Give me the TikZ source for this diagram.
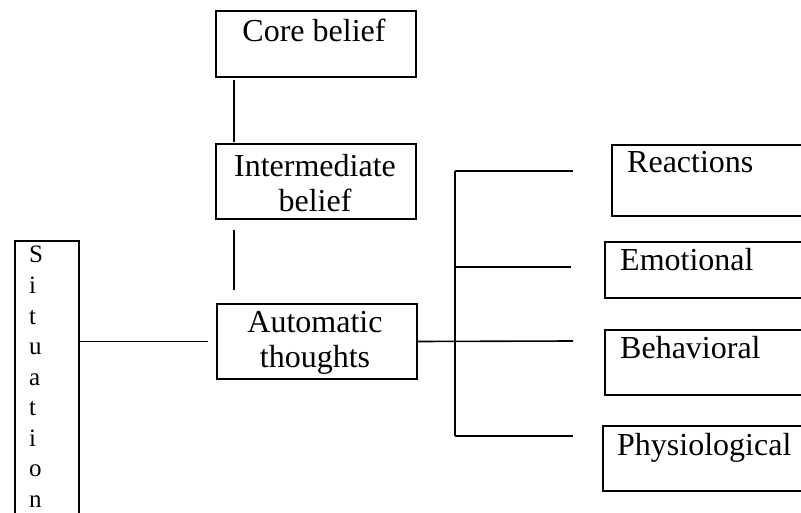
\documentclass[tikz,border=0pt]{standalone}
\usepackage{fontspec}
\setmainfont{Liberation Serif}
\begin{document}
\begin{tikzpicture}[x=1pt,y=-1pt,
  box/.style={draw,line width=2pt,rectangle,inner sep=0pt},
  txt/.style={inner sep=0pt,anchor=base,font=\fontsize{32}{36}\selectfont},
  ltxt/.style={inner sep=0pt,anchor=base west,font=\fontsize{32}{36}\selectfont},
  sl/.style={inner sep=0pt,anchor=base west,font=\fontsize{25}{30}\selectfont},
  conn/.style={line width=1.6pt}]
\useasboundingbox (0,0) rectangle (801,513);
\clip (0,0) rectangle (801,513);
% boxes
\node[box,minimum width=200pt,minimum height=66pt,anchor=north west] (core) at (215,10) {};
\node[box,minimum width=200pt,minimum height=75pt,anchor=north west] (inter) at (215,143) {};
\node[box,minimum width=200pt,minimum height=75pt,anchor=north west] (auto) at (216,303) {};
\node[box,minimum width=64pt,minimum height=300pt,anchor=north west] (sit) at (14,240) {};
\node[box,minimum width=220pt,minimum height=71pt,anchor=north west] (react) at (611,144) {};
\node[box,minimum width=220pt,minimum height=56pt,anchor=north west] (emo) at (604,241) {};
\node[box,minimum width=220pt,minimum height=65pt,anchor=north west] (beh) at (604,329) {};
\node[box,minimum width=220pt,minimum height=65pt,anchor=north west] (phys) at (602,425) {};
% texts
\node[txt] (tcore) at (314,42) {Core belief};
\node[txt] (tinter1) at (315,177) {Intermediate};
\node[txt] (tinter2) at (315,212) {belief};
\node[txt] (tauto1) at (315,332) {Automatic};
\node[txt] (tauto2) at (315,367) {thoughts};
\node[ltxt] (treact) at (627,173) {Reactions};
\node[ltxt] (temo) at (620,271) {Emotional};
\node[ltxt] (tbeh) at (620,358) {Behavioral};
\node[ltxt] (tphys) at (617,455) {Physiological};
\foreach \l [count=\i from 0] in {S,i,t,u,a,t,i,o,n}
  \node[sl] (s\i) at (29,263+30.5*\i) {\l};
% connectors
\draw[conn] ([xshift=-82pt,yshift=-2pt]core.south) -- ([xshift=-82pt,yshift=1pt]inter.north);
\draw[conn] ([xshift=-82pt,yshift=-10pt]inter.south) -- ([xshift=-83pt,yshift=13pt]auto.north);
\draw[conn] (auto.west -| sit.east) -- ([xshift=-8pt]auto.west);
\coordinate (bustop) at (455,171);
\coordinate (busbot) at (455,436);
\coordinate (e1) at (573,171);
\coordinate (e2) at (571,267);
\coordinate (e3) at (573,341);
\coordinate (e4) at (573,436);
\draw[conn] (auto.east) -- (e3);
\draw[conn] (bustop) -- (busbot);
\draw[conn] (bustop) -- (e1);
\draw[conn] (bustop |- e2) -- (e2);
\draw[conn] (busbot) -- (e4);
\end{tikzpicture}
\end{document}
